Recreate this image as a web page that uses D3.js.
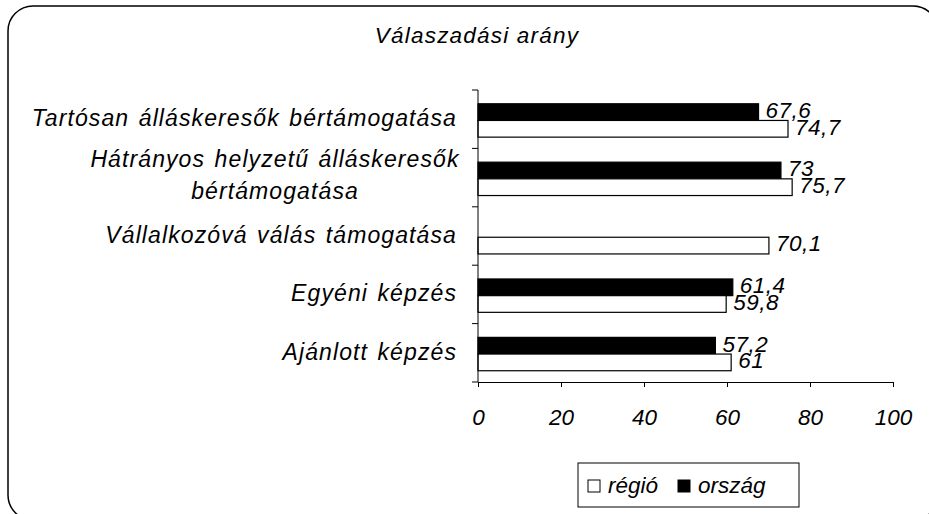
<!DOCTYPE html>
<html>
<head>
<meta charset="utf-8">
<script src="https://cdn.jsdelivr.net/npm/d3@7"></script>
<style>
  body { margin: 0; background: #fff; }
  text { font-family: "Liberation Sans", Arial, sans-serif; font-style: italic; }
</style>
</head>
<body>
<script>
const width = 929;
const height = 514;
const margin = {top: 90, right: 36, bottom: 132, left: 478};

const title = 'Válaszadási arány';
const categories = [
  ['Tartósan álláskeresők bértámogatása'],
  ['Hátrányos helyzetű álláskeresők', 'bértámogatása'],
  ['Vállalkozóvá válás támogatása'],
  ['Egyéni képzés'],
  ['Ajánlott képzés']
];
const orszag = [67.6, 73, null, 61.4, 57.2];
const regio = [74.7, 75.7, 70.1, 59.8, 61];
const seriesNames = ['régió', 'ország'];
const xTicks = [0, 20, 40, 60, 80, 100];

const fmt = v => String(v).replace('.', ',');

const svg = d3.select('body').append('svg')
  .attr('width', width).attr('height', height);

// rounded chart frame (runs past the right/bottom edge like the original)
svg.append('rect')
  .attr('x', 8).attr('y', 6)
  .attr('width', 930).attr('height', 514)
  .attr('rx', 25)
  .attr('fill', 'white').attr('stroke', 'black').attr('stroke-width', 1.5);

svg.append('text')
  .attr('x', 477).attr('y', 43)
  .attr('text-anchor', 'middle')
  .attr('font-size', 22.5)
  .attr('letter-spacing', 1.2)
  .text(title);

const x = d3.scaleLinear().domain([0, 100])
  .range([margin.left, width - margin.right]);

const y = d3.scaleBand().domain(d3.range(categories.length))
  .range([margin.top, height - margin.bottom]);

const inner = d3.scaleBand().domain(['orszag', 'regio'])
  .range([0, y.bandwidth()]).paddingOuter(0.75).align(0.55);

// bars
const rows = d3.range(categories.length).map(i => ({i, orszag: orszag[i], regio: regio[i]}));

const g = svg.append('g');
for (const key of ['orszag', 'regio']) {
  const dat = rows.filter(d => d[key] != null);
  g.selectAll('rect.' + key).data(dat).join('rect')
    .attr('class', key)
    .attr('x', x(0))
    .attr('y', d => y(d.i) + inner(key))
    .attr('width', d => x(d[key]) - x(0))
    .attr('height', inner.bandwidth())
    .attr('fill', key === 'orszag' ? 'black' : 'white')
    .attr('stroke', 'black').attr('stroke-width', 1.2);
}
// value labels drawn after bars so they sit on top
for (const key of ['orszag', 'regio']) {
  const dat = rows.filter(d => d[key] != null);
  g.selectAll('text.' + key).data(dat).join('text')
    .attr('class', key)
    .attr('x', d => x(d[key]) + 7)
    .attr('y', d => y(d.i) + inner(key) + inner.bandwidth() - 2.5)
    .attr('font-size', 22.5)
    .attr('letter-spacing', 0.5)
    .text(d => fmt(d[key]));
}

// axes
const xAxis = svg.append('g')
  .attr('transform', `translate(0,${height - margin.bottom})`)
  .call(d3.axisBottom(x).tickValues(xTicks).tickSize(5).tickPadding(22).tickSizeOuter(0));
xAxis.selectAll('text').attr('font-size', 22.5).attr('fill', 'black')
  .attr('font-family', '"Liberation Sans", Arial, sans-serif');

const yAxis = svg.append('g')
  .attr('transform', `translate(${margin.left},0)`);
yAxis.append('line')
  .attr('x1', 0).attr('x2', 0)
  .attr('y1', margin.top).attr('y2', height - margin.bottom)
  .attr('stroke', 'black');
yAxis.selectAll('line.tick').data(d3.range(categories.length + 1)).join('line')
  .attr('class', 'tick')
  .attr('x1', -6).attr('x2', 0)
  .attr('y1', i => i < categories.length ? y(i) : y(categories.length - 1) + y.bandwidth())
  .attr('y2', i => i < categories.length ? y(i) : y(categories.length - 1) + y.bandwidth())
  .attr('stroke', 'black');

yAxis.selectAll('text.cat').data(categories).join('text')
  .attr('class', 'cat')
  .attr('font-size', 23)
  .attr('letter-spacing', 1.1)
  .attr('word-spacing', 2)
  .each(function(lines, i) {
    const t = d3.select(this);
    const cy = y(i) + y.bandwidth() / 2;
    const lh = 32;
    const y0 = cy - (lines.length - 1) * lh / 2 + (lines.length > 1 ? 5.5 : 7);
    lines.forEach((ln, k) => {
      t.append('tspan')
        .attr('x', lines.length > 1 ? -203 : -21)
        .attr('text-anchor', lines.length > 1 ? 'middle' : 'end')
        .attr('y', y0 + k * lh)
        .text(ln);
    });
  });

// legend
const lg = svg.append('g').attr('transform', 'translate(578,463)');
lg.append('rect').attr('width', 221).attr('height', 44)
  .attr('fill', 'white').attr('stroke', 'black');
const items = [{name: seriesNames[0], fill: 'white', x: 10}, {name: seriesNames[1], fill: 'black', x: 100}];
for (const it of items) {
  lg.append('rect').attr('x', it.x).attr('y', 17).attr('width', 12).attr('height', 12)
    .attr('fill', it.fill).attr('stroke', 'black');
  lg.append('text').attr('x', it.x + 20).attr('y', 29.5).attr('font-size', 22.5).text(it.name);
}
</script>
</body>
</html>
